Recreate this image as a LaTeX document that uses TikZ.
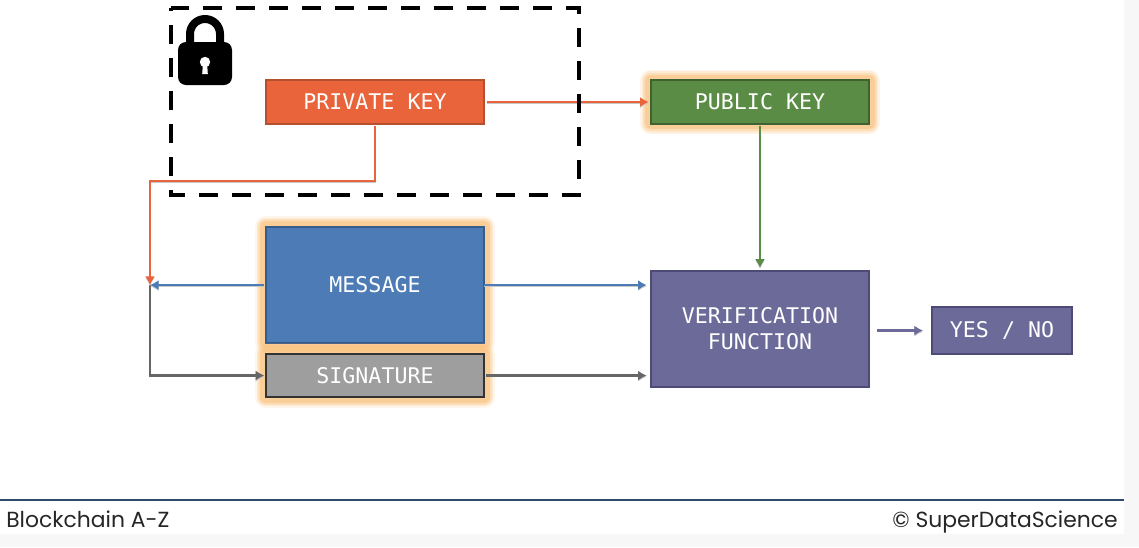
\documentclass[tikz,border=0pt]{standalone}
\usepackage{fontspec}
\setmainfont{Poppins}
\newfontfamily\boxfont{DejaVu Sans Mono}
\usetikzlibrary{arrows.meta}
\definecolor{privfill}{HTML}{E9633B}
\definecolor{privline}{HTML}{B5502F}
\definecolor{pubfill}{HTML}{5B8C45}
\definecolor{publine}{HTML}{3E6230}
\definecolor{msgfill}{HTML}{4C7BB5}
\definecolor{msgline}{HTML}{345D8C}
\definecolor{sigfill}{HTML}{9E9E9E}
\definecolor{sigline}{HTML}{333333}
\definecolor{verfill}{HTML}{6C6A98}
\definecolor{verline}{HTML}{4D4B75}
\definecolor{glowcol}{HTML}{F8B766}
\definecolor{footcol}{HTML}{F7F7F7}
\definecolor{rulecol}{HTML}{2F4A6B}
\tikzset{
  basebox/.style={draw, line width=1.5pt, inner sep=0pt, outer sep=0pt,
    minimum width=164pt, minimum height=32.5pt, text=white, align=center,
    font=\boxfont\fontsize{16.2}{19.5}\selectfont},
  glow/.style={
    preaction={draw=glowcol, line width=16pt, line join=round, opacity=0.12},
    preaction={draw=glowcol, line width=13.5pt, line join=round, opacity=0.18},
    preaction={draw=glowcol, line width=11pt, line join=round, opacity=0.25},
    preaction={draw=glowcol, line width=8pt, line join=round, opacity=0.4}},
  link/.style={line width=2.2pt, -{Latex[length=6.5pt,width=7.5pt]},
    preaction={draw=black!22, transform canvas={yshift=-0.9pt}}},
  footer/.style={font=\fontsize{16.4}{19}\selectfont, text=black!85, inner sep=0pt}
}
\begin{document}
\begin{tikzpicture}[x=0.75pt, y=-0.75pt]
  \useasboundingbox (0, 0) rectangle (1139, 547);
  \fill[footcol] (0, 534) rectangle (1139, 547);
  \fill[footcol] (1124, 0) rectangle (1139, 547);

  \node[basebox, glow, fill=pubfill, draw=publine] (pubkey) at (760, 102) {PUBLIC KEY};
  \node[basebox, fill=privfill, draw=privline] (privkey) at (375, 102) {PRIVATE KEY};
  \node[basebox, glow, fill=msgfill, draw=msgline, minimum height=87pt] (message)
    at (375, 284.5) {MESSAGE};
  \node[basebox, glow, fill=sigfill, draw=sigline] (signature) at (375, 375.5) {SIGNATURE};
  \node[basebox, fill=verfill, draw=verline, minimum height=87pt] (verify)
    at (760, 328.5) {VERIFICATION\\FUNCTION};
  \node[basebox, fill=verfill, draw=verline, minimum width=104.5pt, minimum height=35pt] (result)
    at (1002, 330.5) {YES / NO};

  \coordinate (bend) at (150, 181);
  \coordinate (join) at (150, 285);

  \draw[link, msgfill, shorten <=1pt] (message.west |- join) -- (join);
  \draw[link, black!60, shorten >=1pt] (join) |- (signature.west);
  \draw[link, privfill, shorten <=2pt, shorten >=1.5pt] (privkey.east) -- (pubkey.west);
  \draw[link, privfill, shorten <=2pt] (privkey.south) |- (bend) -- (join);
  \draw[link, pubfill, shorten <=2pt, shorten >=2pt] (pubkey.south) -- (verify.north);
  \draw[link, msgfill, shorten >=3pt] (message.east |- join) -- (verify.west |- join);
  \draw[link, black!60, shorten <=1.5pt, shorten >=3pt] (signature.east) -- (verify.west |- signature.east);
  \draw[link, verfill, shorten <=6pt, shorten >=7pt] (verify.east |- result.west) -- (result.west);

  \draw[black, line width=3pt, dash pattern=on 14.25pt off 10.5pt, dash phase=0.75pt]
    (171, 8) -- (579, 8) -- (579, 195) -- (171, 195) -- cycle;

  \fill[black, rounded corners=6pt] (178, 42) rectangle (232, 85);
  \draw[black, line width=6pt] (190, 46) -- (190, 34) arc[start angle=180, end angle=360, radius=15] -- (220, 46);
  \fill[white] (205, 62) circle[radius=5.2];
  \fill[white] (203, 62) -- (207, 62) -- (207.8, 74) -- (202.2, 74) -- cycle;

  \draw[rulecol, line width=1.5pt] (0, 500) -- (1124, 500);
  \node[footer, anchor=base west] (course) at (6, 527) {Blockchain A-Z};
  \node[footer, anchor=base east] (owner) at (1118, 527) {© SuperDataScience};
\end{tikzpicture}
\end{document}
